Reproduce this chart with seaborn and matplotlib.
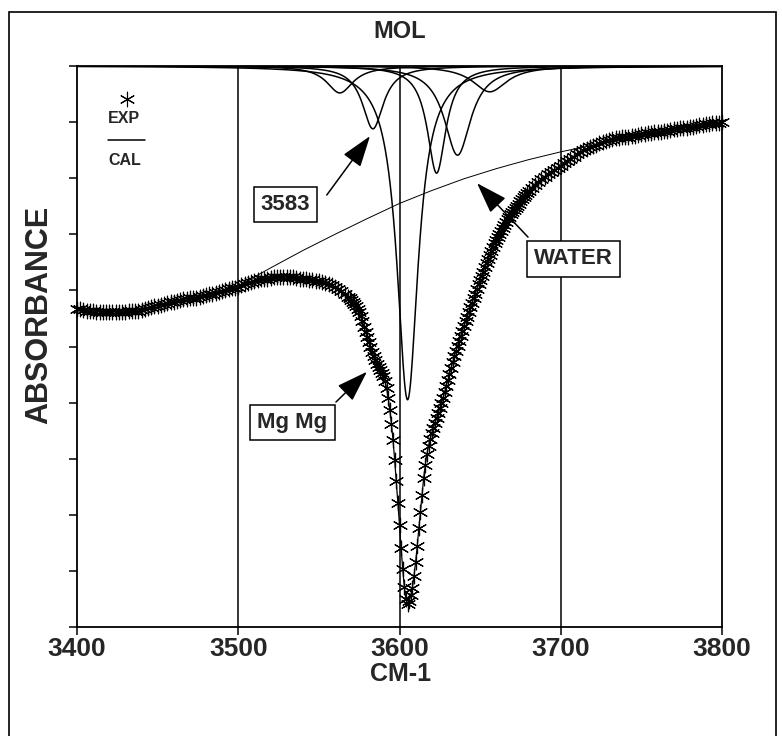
import numpy as np
import matplotlib
matplotlib.use("Agg")
import matplotlib.pyplot as plt
from matplotlib.patches import Rectangle
import seaborn as sns

# Experimental spectrum, sampled every 2 cm-1 in the wings and every 1 cm-1
# across the main band (absorbance axis is drawn increasing downwards)
wn_left = np.arange(3400, 3569, 2)
exp_left = [
    0.433, 0.434, 0.435, 0.436, 0.437, 0.437, 0.438, 0.438, 0.438, 0.438,
    0.438, 0.438, 0.438, 0.438, 0.438, 0.438, 0.437, 0.437, 0.437, 0.436,
    0.435, 0.433, 0.431, 0.429, 0.428, 0.427, 0.426, 0.424, 0.422, 0.421,
    0.421, 0.419, 0.417, 0.416, 0.415, 0.414, 0.414, 0.413, 0.412, 0.410,
    0.408, 0.407, 0.406, 0.404, 0.403, 0.401, 0.399, 0.397, 0.396, 0.395,
    0.394, 0.391, 0.389, 0.387, 0.385, 0.383, 0.381, 0.380, 0.380, 0.379,
    0.378, 0.377, 0.376, 0.376, 0.376, 0.376, 0.376, 0.377, 0.378, 0.379,
    0.380, 0.380, 0.381, 0.382, 0.383, 0.384, 0.385, 0.387, 0.389, 0.391,
    0.394, 0.397, 0.401, 0.406, 0.412,
]
wn_core = np.arange(3569, 3681, 1)
exp_core = [
    0.414, 0.417, 0.420, 0.424, 0.428, 0.433, 0.439, 0.446,
    0.455, 0.465, 0.474, 0.483, 0.492, 0.501, 0.510, 0.517, 0.524, 0.531,
    0.537, 0.542, 0.547, 0.553, 0.561, 0.574, 0.592, 0.613, 0.638, 0.667,
    0.702, 0.740, 0.779, 0.818, 0.859, 0.897, 0.929, 0.950, 0.959, 0.954,
    0.943, 0.930, 0.909, 0.884, 0.856, 0.824, 0.795, 0.765, 0.734, 0.711,
    0.692, 0.677, 0.665, 0.654, 0.645, 0.636, 0.627, 0.619, 0.610, 0.601,
    0.592, 0.581, 0.570, 0.560,
    0.549, 0.538, 0.528, 0.517, 0.508, 0.499, 0.490, 0.481, 0.472, 0.463,
    0.455, 0.447, 0.438, 0.430, 0.422, 0.414, 0.406, 0.397, 0.389, 0.381,
    0.374, 0.367, 0.359, 0.351, 0.344, 0.337, 0.330, 0.323, 0.316, 0.310,
    0.304, 0.299, 0.294, 0.289, 0.283, 0.278, 0.273, 0.269, 0.264, 0.260,
    0.256, 0.253, 0.249, 0.246, 0.241, 0.237, 0.233, 0.230, 0.226, 0.223,
]
wn_right = np.arange(3682, 3801, 2)
exp_right = [
    0.217, 0.212, 0.207, 0.201, 0.198, 0.193, 0.189, 0.185, 0.182, 0.178,
    0.173, 0.169, 0.165, 0.162, 0.157, 0.153, 0.150, 0.148, 0.145, 0.143,
    0.140, 0.137, 0.135, 0.134, 0.132, 0.130, 0.129, 0.128, 0.127, 0.127,
    0.126, 0.125, 0.124, 0.123, 0.122, 0.121, 0.120, 0.119, 0.118, 0.118,
    0.117, 0.116, 0.115, 0.114, 0.113, 0.112, 0.111, 0.111, 0.110, 0.109,
    0.108, 0.107, 0.106, 0.105, 0.104, 0.103, 0.102, 0.102, 0.101, 0.100,
]

# Broad water background
water_wavenumber = [3500, 3520, 3540, 3560, 3580, 3600, 3620, 3640, 3660,
                    3680, 3700, 3720, 3740, 3760, 3780, 3800]
water_absorbance = [0.392, 0.360, 0.329, 0.300, 0.272, 0.245, 0.222, 0.201,
                    0.183, 0.167, 0.153, 0.141, 0.127, 0.117, 0.108, 0.100]

# Fitted OH bands: centre (cm-1), peak absorbance, half width at half maximum (cm-1)
band_center = [3563.0, 3583.5, 3605.0, 3623.0, 3636.0, 3656.0]
band_height = [0.048, 0.112, 0.595, 0.191, 0.159, 0.046]
band_hwhm = [10.0, 8.0, 8.0, 7.0, 10.0, 13.0]

x_ticks = [3400, 3500, 3600, 3700, 3800]
y_ticks = [0.0, 0.1, 0.2, 0.3, 0.4, 0.5, 0.6, 0.7, 0.8, 0.9, 1.0]

wavenumber = np.concatenate([wn_left, wn_core, wn_right])
exp_absorbance = np.concatenate([exp_left, exp_core, exp_right])

sns.set_theme(style="ticks")
plt.rcParams["font.family"] = ["Liberation Sans", "DejaVu Sans"]
plt.rcParams["font.weight"] = "bold"
plt.rcParams["axes.linewidth"] = 1.3

fig = plt.figure(figsize=(7.82, 7.36), dpi=100)
ax = fig.add_axes([77 / 782, 109 / 736, 645 / 782, 561 / 736])

# vertical reference lines at the inner ticks
for xv in x_ticks[1:-1]:
    ax.axvline(xv, color="black", lw=1.1, zorder=1)

# Lorentzian components
grid = np.linspace(x_ticks[0], x_ticks[-1], 1601)
for c, h, w in zip(band_center, band_height, band_hwhm):
    profile = h / (1.0 + ((grid - c) / w) ** 2)
    sns.lineplot(x=grid, y=profile, color="black", lw=1.1, ax=ax,
                 estimator=None, sort=False, zorder=2)

# water background
sns.lineplot(x=water_wavenumber, y=water_absorbance, color="black", lw=0.7,
             ax=ax, estimator=None, sort=False, zorder=2)

# calculated curve and experimental points
sns.lineplot(x=wavenumber, y=exp_absorbance, color="black", lw=0.9, ax=ax,
             estimator=None, sort=False, zorder=3)
star = (6, 2, 0)
sns.scatterplot(x=wavenumber, y=exp_absorbance, marker=star, s=110,
                color="black", linewidth=0.85, ax=ax, clip_on=False, zorder=4)

ax.set_xlim(x_ticks[0], x_ticks[-1])
ax.set_ylim(1.0, 0.0)
ax.set_xticks(x_ticks)
ax.set_xticklabels([str(t) for t in x_ticks])
ax.set_yticks(y_ticks)
ax.set_yticklabels([])
ax.tick_params(axis="both", direction="out", length=6, width=1.1,
               color="black", labelsize=19, pad=1.5)
for s in ax.spines.values():
    s.set_visible(True)
    s.set_color("black")
    s.set_linewidth(1.3)

ax.set_xlabel("CM-1", fontsize=18, fontweight="bold")
ax.xaxis.set_label_coords(0.502, -0.063)
ax.set_ylabel("ABSORBANCE", fontsize=22, fontweight="bold")
ax.yaxis.set_label_coords(-0.035, 0.557)

# key in the upper left corner
ax.scatter([0.078], [0.941], transform=ax.transAxes, marker=star, s=110,
           color="black", linewidth=0.8)
ax.text(0.073, 0.906, "EXP", transform=ax.transAxes, ha="center",
        va="center", fontsize=11.5, fontweight="bold")
ax.plot([0.048, 0.105], [0.868, 0.868], transform=ax.transAxes,
        color="black", lw=1.1)
ax.text(0.074, 0.831, "CAL", transform=ax.transAxes, ha="center",
        va="center", fontsize=11.5, fontweight="bold")

# labelled call-outs
box = dict(boxstyle="square,pad=0.32", fc="white", ec="black", lw=1.1)
arrow = dict(arrowstyle="-|>,head_length=0.65,head_width=0.22",
             mutation_scale=30, color="black", lw=1.1, shrinkA=0, shrinkB=0)

ax.text(3529.3, 0.247, "3583", ha="center", va="center", fontsize=16,
        fontweight="bold", bbox=box, zorder=6)
ax.annotate("", xy=(3581.7, 0.125), xytext=(3554.9, 0.230),
            arrowprops=arrow, zorder=6)

ax.text(3707.9, 0.344, "WATER", ha="center", va="center", fontsize=16,
        fontweight="bold", bbox=box, zorder=6)
ax.annotate("", xy=(3648.1, 0.209), xytext=(3679.7, 0.305),
            arrowprops=arrow, zorder=6)

ax.text(3533.6, 0.635, "Mg Mg", ha="center", va="center", fontsize=16,
        fontweight="bold", bbox=box, zorder=6)
ax.annotate("", xy=(3579.8, 0.545), xytext=(3560.6, 0.599),
            arrowprops=arrow, zorder=6)

fig.text(400 / 782, 1 - 31 / 736, "MOL", ha="center", va="center",
         fontsize=17, fontweight="bold")

# outer frame
fig.patches.append(Rectangle((9 / 782, -0.05), (776 - 9) / 782,
                             1.05 - 12 / 736, transform=fig.transFigure,
                             fill=False, ec="black", lw=1.2))

fig.savefig("out.png", dpi=100)
